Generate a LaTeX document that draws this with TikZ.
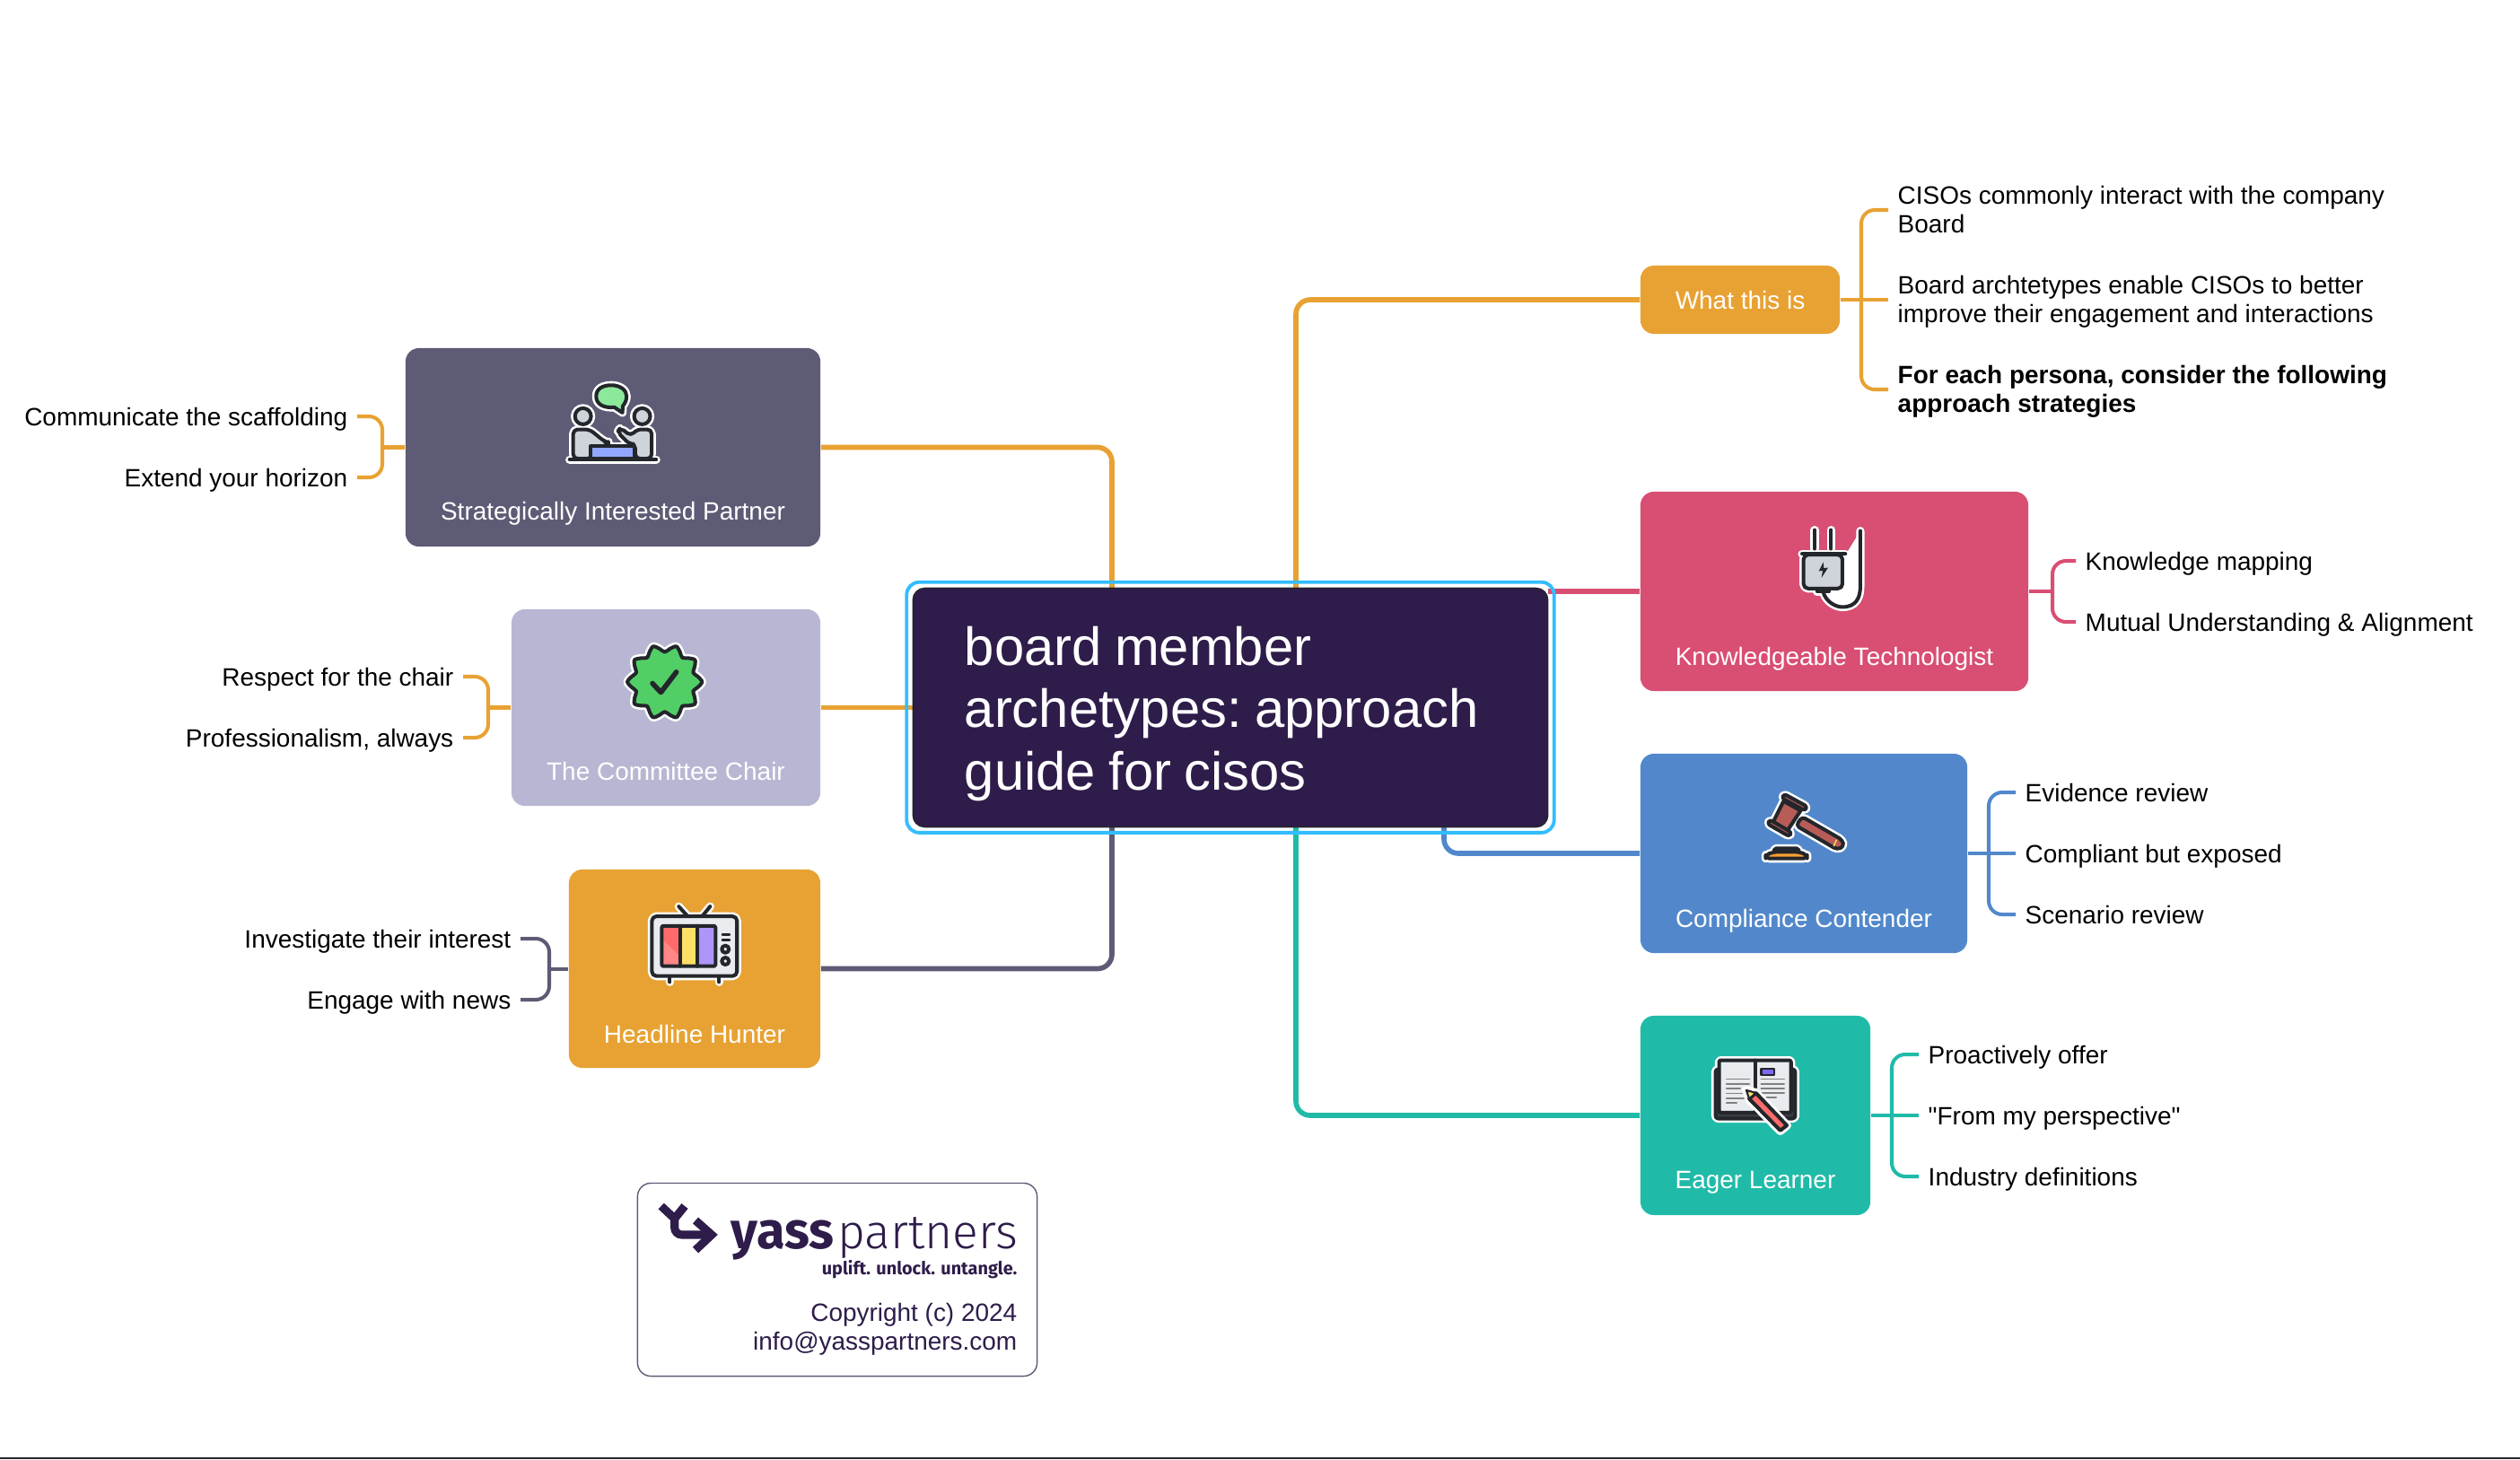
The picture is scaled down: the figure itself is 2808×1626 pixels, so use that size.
\documentclass[tikz,border=0pt]{standalone}
\usepackage{amsmath}
\usepackage{fontspec}
\setmainfont[Ligatures=TeXOff]{Liberation Sans}
\newfontfamily\brandfont{Fira Sans}
\newfontfamily\brandlight{Fira Sans Light}
\usetikzlibrary{backgrounds,calc}
\newcommand{\tightwords}{\frenchspacing\spaceskip=0.24em\relax}

\definecolor{plum}{HTML}{2E1C4A}
\definecolor{slate}{HTML}{5D5B75}
\definecolor{lilac}{HTML}{B8B7D3}
\definecolor{amber}{HTML}{E8A233}
\definecolor{rose}{HTML}{D94E73}
\definecolor{steel}{HTML}{5288CB}
\definecolor{jade}{HTML}{20BBA8}
\definecolor{frameblue}{HTML}{33BDFF}
\definecolor{inkdark}{HTML}{23262B}
\definecolor{icongrey}{HTML}{CED4DA}
\definecolor{iconpale}{HTML}{E9ECEF}
\definecolor{icongreen}{HTML}{51CF66}
\definecolor{iconmint}{HTML}{8CE99A}
\definecolor{iconblue}{HTML}{91A7FF}
\definecolor{iconred}{HTML}{FF6B6B}
\definecolor{iconpink}{HTML}{FF8787}
\definecolor{iconyellow}{HTML}{FFE066}
\definecolor{iconpurple}{HTML}{AE95FA}
\definecolor{iconbrown}{HTML}{B85C58}
\definecolor{iconorange}{HTML}{FFA033}

\tikzset{
  persona/.style={rectangle,rounded corners=0.15cm,inner sep=0pt,minimum height=2.21cm},
  boxtext/.style={anchor=base,inner sep=0pt,white,font=\fontsize{7.95}{9.25}\selectfont},
  leaf/.style={inner xsep=0.10cm,inner ysep=0pt,text height=0.24cm,text depth=0.04cm,font=\fontsize{7.95}{9.25}\selectfont},
  branch/.style={line width=1.6pt,rounded corners=0.16cm},
  twig/.style={line width=1.15pt,rounded corners=0.15cm},
  iconframe/.style={x=0.00333cm,y=-0.00333cm,line join=round,line cap=round},
  halo/.style={draw=white,fill=white,line width=2.6pt},
  ink/.style={draw=inkdark,line width=1.15pt},
}

\begin{document}
\begin{tikzpicture}[x=0.01cm,y=-0.01cm]
\useasboundingbox (0,0) rectangle (2808,1626);
\draw [color=inkdark,line width=0.8pt] (0,1625) -- (2808,1625);

\node (title) [rectangle,rounded corners=0.13cm,draw=inkdark,fill=plum,line width=0.4pt,minimum width=7.07cm,minimum height=2.66cm,inner sep=0pt,text=white,text width=5.92cm,align=left,font=\fontsize{17}{19.65}\selectfont] at (1371,788.5) {\tightwords\vbox{\vskip 0.14cm\hbox{board member}\hbox{archetypes: approach}\hbox{guide for cisos}}};
\node (frame) [rectangle,rounded corners=0.14cm,draw=frameblue,line width=1.1pt,minimum width=7.21cm,minimum height=2.79cm,inner sep=0pt] at (1371,788.3) {};

\node (partner) [persona,fill=slate,minimum width=4.62cm] at (683,498.5) {};
\node (chair) [persona,fill=lilac,minimum width=3.44cm,minimum height=2.19cm] at (742,788.5) {};
\node (hunter) [persona,fill=amber,minimum width=2.80cm] at (774,1079.5) {};
\node (what) [persona,fill=amber,minimum width=2.22cm,minimum height=0.76cm,text=white,font=\fontsize{7.95}{9.25}\selectfont] at (1939,334) {What this is};
\node (techie) [persona,fill=rose,minimum width=4.32cm,minimum height=2.22cm] at (2044,659) {};
\node (contender) [persona,fill=steel,minimum width=3.64cm,minimum height=2.22cm] at (2010,951) {};
\node (learner) [persona,fill=jade,minimum width=2.56cm,minimum height=2.22cm] at (1956,1243) {};

\node (partnertext) [boxtext] at ($(partner.south)+(0,-30)$) {Strategically Interested Partner};
\node (chairtext) [boxtext] at ($(chair.south)+(0,-29)$) {The Committee Chair};
\node (huntertext) [boxtext] at ($(hunter.south)+(0,-28)$) {Headline Hunter};
\node (techietext) [boxtext] at ($(techie.south)+(0,-29)$) {Knowledgeable Technologist};
\node (contendertext) [boxtext] at ($(contender.south)+(0,-29)$) {Compliance Contender};
\node (learnertext) [boxtext] at ($(learner.south)+(0,-30)$) {Eager Learner};

\node (partnerA) [leaf,anchor=east] at (398,464) {Communicate the scaffolding};
\node (partnerB) [leaf,anchor=east] at (398,532) {Extend your horizon};
\node (chairA) [leaf,anchor=east] at (516,754) {Respect for the chair};
\node (chairB) [leaf,anchor=east] at (516,822) {Professionalism, always};
\node (hunterA) [leaf,anchor=east] at (580,1046) {Investigate their interest};
\node (hunterB) [leaf,anchor=east] at (580,1114) {Engage with news};
\node (whatA) [leaf,anchor=west] at (2104,234) {\raisebox{0.17cm}{\vtop{\hbox{CISOs commonly interact with the company}\hbox{Board}}}};
\node (whatB) [leaf,anchor=west] at (2104,334) {\raisebox{0.17cm}{\vtop{\hbox{Board archtetypes enable CISOs to better}\hbox{improve their engagement and interactions}}}};
\node (whatC) [leaf,anchor=west] at (2104,434) {\raisebox{0.17cm}{\vtop{\hbox{\bfseries For each persona, consider the following}\hbox{\bfseries approach strategies}}}};
\node (techieA) [leaf,anchor=west] at (2313,625) {Knowledge mapping};
\node (techieB) [leaf,anchor=west] at (2313,693) {Mutual Understanding \& Alignment};
\node (contenderA) [leaf,anchor=west] at (2246,883) {Evidence review};
\node (contenderB) [leaf,anchor=west] at (2246,951) {Compliant but exposed};
\node (contenderC) [leaf,anchor=west] at (2246,1019) {Scenario review};
\node (learnerA) [leaf,anchor=west] at (2138,1175) {Proactively offer};
\node (learnerB) [leaf,anchor=west] at (2138,1243) {"From my perspective"};
\node (learnerC) [leaf,anchor=west] at (2138,1311) {Industry definitions};

\coordinate (partnerfork) at (426,498.5);
\coordinate (chairfork) at (544,788.5);
\coordinate (hunterfork) at (612,1079.5);
\coordinate (whatfork) at (2074,334);
\coordinate (techiefork) at (2287,659);
\coordinate (contenderfork) at (2216,951);
\coordinate (learnerfork) at (2108,1243);
\coordinate (titleleft) at (1239,788);
\coordinate (titleright) at (1444,788);
\coordinate (titlelow) at (1609,788);

\begin{scope}[on background layer]
\draw [branch,amber] (partner.east) -| (titleleft);
\draw [branch,amber] (chair.east) -- (title.west |- chair.east);
\draw [branch,slate] (hunter.east) -| (titleleft);
\draw [branch,amber] (what.west) -| (titleright);
\draw [branch,rose] (techie.west) -- (title.east |- techie.west);
\draw [branch,steel] (contender.west) -| (titlelow);
\draw [branch,jade] (learner.west) -| (titleright);
\end{scope}

\draw [twig,amber] (partnerA.east) -| (partnerfork) |- (partnerB.east);
\draw [twig,amber] (partner.west) -- (partnerfork);
\draw [twig,amber] (chairA.east) -| (chairfork) |- (chairB.east);
\draw [twig,amber] (chair.west) -- (chairfork);
\draw [twig,slate] (hunterA.east) -| (hunterfork) |- (hunterB.east);
\draw [twig,slate] (hunter.west) -- (hunterfork);
\draw [twig,amber] (whatA.west) -| (whatfork) |- (whatC.west);
\draw [twig,amber] (what.east) -- (whatB.west);
\draw [twig,rose] (techieA.west) -| (techiefork) |- (techieB.west);
\draw [twig,rose] (techie.east) -- (techiefork);
\draw [twig,steel] (contenderA.west) -| (contenderfork) |- (contenderC.west);
\draw [twig,steel] (contender.east) -- (contenderB.west);
\draw [twig,jade] (learnerA.west) -| (learnerfork) |- (learnerC.west);
\draw [twig,jade] (learner.east) -- (learnerB.west);

% two people at a table
\begin{scope}[shift={(440,380)},iconframe]
\foreach \pass in {halo,ink} {
\draw [fill=iconmint,\pass] (674,185) .. controls (674,160) and (695,148) .. (725,148) .. controls (755,148) and (776,165) .. (776,185) .. controls (776,200) and (768,212) .. (763,218) -- (762,240) -- (735,222) .. controls (695,225) and (674,210) .. (674,185) -- cycle;
\draw [fill=icongrey,\pass] (630,252) circle (27);
\draw [fill=icongrey,\pass] (828,252) circle (27);
\draw [fill=icongrey,\pass,rounded corners=0.05cm] (597,394) -- (597,296) -- (652,296) -- (700,335) -- (715,340) -- (715,352) -- (660,352) -- (660,394) -- cycle;
\draw [fill=icongrey,\pass,rounded corners=0.05cm] (860,394) -- (860,296) -- (810,296) -- (790,318) -- (755,290) -- (745,305) -- (785,345) -- (805,345) -- (805,394) -- cycle;
\draw [fill=iconblue,\pass] (655,352) rectangle (802,394);
\draw [fill=inkdark,\pass] (585,397) -- (875,397);
}
\end{scope}

% rosette with a tick
\begin{scope}[shift={(560,680)},iconframe]
\foreach \pass in {halo,ink} {
\draw [fill=icongreen,\pass] plot [smooth cycle,domain=0:351,samples=40] ({543+(112.5+12.5*cos(10*\x))*cos(\x)},{240+(112.5+12.5*cos(10*\x))*sin(\x)});
}
\draw [ink,line width=1.6pt] (502,245) -- (530,275) -- (582,207);
\end{scope}

% television set
\begin{scope}[shift={(560,680)},iconframe]
\foreach \pass in {halo,ink} {
\draw [\pass] (590,992) -- (620,1025);
\draw [\pass] (695,992) -- (668,1025);
\draw [\pass] (560,1225) -- (560,1245);
\draw [\pass] (725,1225) -- (725,1245);
\draw [fill=iconpale,\pass,rounded corners=0.05cm] (500,1025) rectangle (785,1225);
}
\fill [iconred] (535,1058) rectangle (595,1192);
\fill [iconpink] (535,1102) -- (595,1160) -- (595,1192) -- (535,1192) -- cycle;
\fill [iconyellow] (595,1058) rectangle (652,1192);
\fill [iconpurple] (652,1058) rectangle (712,1192);
\draw [ink,rounded corners=0.02cm] (533,1057) rectangle (713,1192);
\draw [ink] (595,1057) -- (595,1192);
\draw [ink] (652,1057) -- (652,1192);
\draw [ink,line width=0.8pt] (736,1087) -- (760,1087);
\draw [ink,line width=0.8pt] (736,1105) -- (760,1105);
\draw [ink] (746,1135) circle (12);
\draw [ink] (746,1175) circle (12);
\end{scope}

% plug and cable
\begin{scope}[shift={(1820,540)},iconframe]
\foreach \pass in {halo,ink} {
\draw [\pass] (607,152) -- (607,215);
\draw [\pass] (662,152) -- (662,215);
\draw [\pass] (635,358) .. controls (645,395) and (680,410) .. (700,410) .. controls (745,410) and (760,380) .. (760,340) -- (760,155);
\draw [fill=icongrey,\pass,rounded corners=0.05cm] (570,235) -- (570,348) -- (700,348) -- (700,235) -- cycle;
\draw [fill=inkdark,\pass] (565,232) -- (710,232);
\draw [fill=inkdark,\pass] (615,348) rectangle (655,358);
}
\fill [inkdark] (636,260) -- (621,290) -- (634,288) -- (630,312) -- (652,278) -- (638,280) -- cycle;
\end{scope}

% gavel on its block
\begin{scope}[shift={(1820,540)},iconframe]
\foreach \pass in {halo,ink} {
\draw [fill=iconbrown,\pass,rounded corners=0.04cm] (565,1112) -- (700,1190) -- (705,1212) -- (682,1222) -- (545,1142) -- cycle;
\draw [fill=iconbrown,\pass] (503,1060) -- (560,1092) -- (515,1160) -- (468,1130) -- cycle;
\draw [fill=iconbrown,\pass,rounded corners=0.03cm] (505,1036) -- (582,1078) -- (575,1092) -- (497,1050) -- cycle;
\draw [fill=iconbrown,\pass,rounded corners=0.03cm] (457,1122) -- (530,1165) -- (522,1178) -- (449,1136) -- cycle;
\draw [fill=iconorange,\pass,rounded corners=0.02cm] (472,1218) -- (553,1218) -- (555,1230) -- (470,1230) -- cycle;
\draw [fill=iconorange,\pass,rounded corners=0.04cm] (470,1230) -- (555,1230) -- (582,1240) -- (582,1252) -- (443,1252) -- (443,1240) -- cycle;
}
\draw [iconyellow,line width=0.4pt] (680,1190) -- (671,1210);
\end{scope}

% open book and pencil
\begin{scope}[shift={(1820,1120)},iconframe]
\foreach \pass in {halo,ink} {
\draw [fill=inkdark!90,\pass,rounded corners=0.03cm] (275,215) rectangle (542,380);
\draw [fill=iconpale,\pass,rounded corners=0.02cm] (287,185) rectangle (528,360);
}
\draw [ink] (408,185) -- (408,360);
\foreach \y/\e in {248/388,264/388,280/358,296/370,312/370,328/346} {
\draw [color=gray,line width=0.5pt] (312,\y) -- (\e,\y);
}
\foreach \y/\e in {248/505,264/505,279/505,294/505,310/478} {
\draw [color=gray,line width=0.5pt] (428,\y) -- (\e,\y);
}
\draw [fill=iconpurple!70!blue,ink,line width=0.6pt] (428,213) rectangle (472,233);
\draw [halo] (378,285) -- (410,293) -- (515,403) -- (492,422) -- (388,316) -- cycle;
\draw [fill=iconred,ink] (388,314) -- (410,294) -- (514,403) -- (492,420) -- cycle;
\draw [fill=iconyellow,ink,line width=0.6pt] (378,285) -- (410,294) -- (388,314) -- cycle;
\fill [inkdark] (376,283) -- (390,288) -- (381,297) -- cycle;
\end{scope}

% logo card
\node (card) [rectangle,rounded corners=0.15cm,draw=slate,line width=0.4pt,minimum width=4.45cm,minimum height=2.15cm,inner sep=0pt] at (933,1426) {};
\coordinate (markleft) at (736.7,1344);
\coordinate (markright) at (763,1344);
\coordinate (markfork) at (751.7,1358);
\coordinate (marktip) at (793,1376);
\draw [plum,line width=2.6pt] (markleft) -- (markfork) -- (markright);
\draw [plum,line width=2.6pt,rounded corners=0.08cm] (markfork) |- (marktip);
\draw [plum,line width=2.6pt,miter limit=5] (775,1360) -- (marktip) -- (775,1393);
\node (brand) [anchor=base east,inner sep=0pt,plum] at (1135,1391) {{\fontsize{16.4}{19}\selectfont\brandfont\bfseries yass}\hspace{0.04cm}{\fontsize{15.2}{19}\selectfont\brandlight partners}};
\node (slogan) [anchor=base east,inner sep=0pt,plum,font=\fontsize{5.65}{6}\selectfont\brandfont\bfseries] at (1134,1420) {uplift. unlock. untangle.};
\node (copyright) [anchor=base east,inner sep=0pt,plum,font=\fontsize{7.95}{9.25}\selectfont] at (1134,1472) {Copyright (c) 2024};
\node (email) [anchor=base east,inner sep=0pt,plum,font=\fontsize{7.95}{9.25}\selectfont] at (1134,1504) {info@yasspartners.com};
\end{tikzpicture}
\end{document}
